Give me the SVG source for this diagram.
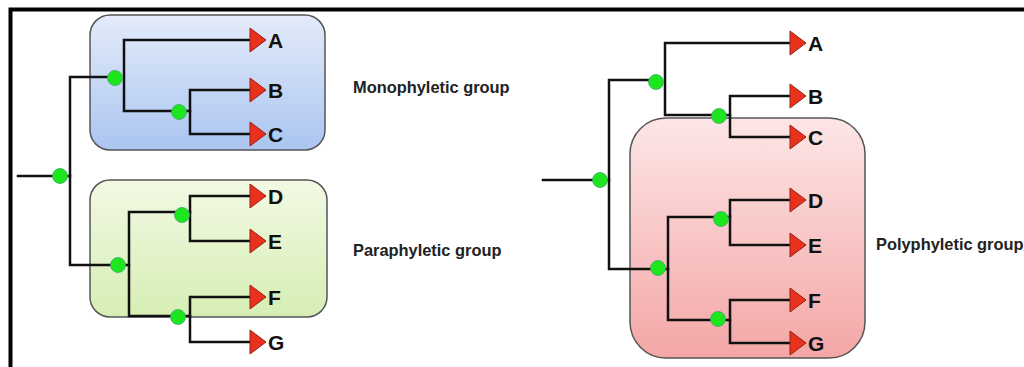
<svg xmlns="http://www.w3.org/2000/svg" width="1024" height="367" viewBox="0 0 1024 367">
<defs>
<linearGradient id="gBlue" x1="0" y1="0" x2="0" y2="1"><stop offset="0" stop-color="#e4ebfa"/><stop offset="1" stop-color="#aac5f0"/></linearGradient>
<linearGradient id="gGreen" x1="0" y1="0" x2="0" y2="1"><stop offset="0" stop-color="#f2f9e4"/><stop offset="1" stop-color="#d6eeb4"/></linearGradient>
<linearGradient id="gPink" x1="0" y1="0" x2="0" y2="1"><stop offset="0" stop-color="#fde6e6"/><stop offset="1" stop-color="#f4a6a6"/></linearGradient>
<path id="tri" d="M0,-12 L16,0 L0,12 Z"/>
<circle id="dot" r="7.5"/>
</defs>
<style>
.box{stroke:#555;stroke-width:1.5}
.br{fill:none;stroke:#111;stroke-width:2.5;stroke-linecap:square}
.tip use{fill:#e8321e;stroke:#9a1e12;stroke-width:1}
.node{fill:#1ee61e;stroke:#3aa86a;stroke-width:0.8}
.lbl{font-family:"Liberation Sans",Arial,sans-serif;font-weight:bold;font-size:21px;fill:#111}
.grp{font-family:"Liberation Sans",Arial,sans-serif;font-weight:bold;font-size:16.4px;fill:#222}
</style>
<rect width="1024" height="367" fill="#fff"/>
<path d="M10.5,367 V9.5 H1024" fill="none" stroke="#000" stroke-width="4"/>

<g id="box-mono"><rect class="box" x="90" y="15" width="235" height="135" rx="20" fill="url(#gBlue)"/></g>
<g id="box-para"><rect class="box" x="90" y="180" width="237" height="137" rx="20" fill="url(#gGreen)"/></g>
<g id="box-poly"><rect class="box" x="630" y="118" width="235" height="240" rx="36" fill="url(#gPink)"/></g>

<g id="connectors" class="br">
<path d="M18,176 H70"/>
<path d="M115,77 H70 V265 H129"/>
<path d="M250,40 H124 V111 H190"/>
<path d="M250,90 H190 V134 H250"/>
<path d="M190,212 H129 V316 H190"/>
<path d="M250,196 H190 V241 H250"/>
<path d="M250,297 H190 V342 H250"/>
<path d="M543,180 H609"/>
<path d="M656,80 H609 V269 H668"/>
<path d="M790,43 H665 V115 H730"/>
<path d="M790,96 H730 V137 H790"/>
<path d="M730,217 H668 V320 H730"/>
<path d="M790,200 H730 V245 H790"/>
<path d="M790,300 H730 V343 H790"/>
</g>

<g id="nodes" class="node">
<g id="n-root-l"><use href="#dot" x="60" y="176"/></g>
<g id="n-abc"><use href="#dot" x="115" y="78"/></g>
<g id="n-bc"><use href="#dot" x="179" y="112"/></g>
<g id="n-defg-l"><use href="#dot" x="118" y="265"/></g>
<g id="n-de-l"><use href="#dot" x="182" y="215"/></g>
<g id="n-fg-l"><use href="#dot" x="178" y="317"/></g>
<g id="n-root-r"><use href="#dot" x="600" y="180"/></g>
<g id="n-abc-r"><use href="#dot" x="656" y="82"/></g>
<g id="n-bc-r"><use href="#dot" x="719" y="116"/></g>
<g id="n-defg-r"><use href="#dot" x="658" y="268"/></g>
<g id="n-de-r"><use href="#dot" x="721" y="219"/></g>
<g id="n-fg-r"><use href="#dot" x="718" y="319"/></g>
</g>

<g id="tip-A-l" class="tip"><use href="#tri" x="250" y="40"/><text class="lbl" x="268" y="47.5">A</text></g>
<g id="tip-B-l" class="tip"><use href="#tri" x="250" y="90"/><text class="lbl" x="268" y="97.5">B</text></g>
<g id="tip-C-l" class="tip"><use href="#tri" x="250" y="134"/><text class="lbl" x="268" y="141.5">C</text></g>
<g id="tip-D-l" class="tip"><use href="#tri" x="250" y="196"/><text class="lbl" x="268" y="203.5">D</text></g>
<g id="tip-E-l" class="tip"><use href="#tri" x="250" y="241"/><text class="lbl" x="268" y="248.5">E</text></g>
<g id="tip-F-l" class="tip"><use href="#tri" x="250" y="297"/><text class="lbl" x="268" y="304.5">F</text></g>
<g id="tip-G-l" class="tip"><use href="#tri" x="250" y="342"/><text class="lbl" x="268" y="349.5">G</text></g>

<g id="tip-A-r" class="tip"><use href="#tri" x="790" y="43"/><text class="lbl" x="808" y="50.5">A</text></g>
<g id="tip-B-r" class="tip"><use href="#tri" x="790" y="96"/><text class="lbl" x="808" y="103.5">B</text></g>
<g id="tip-C-r" class="tip"><use href="#tri" x="790" y="137"/><text class="lbl" x="808" y="144.5">C</text></g>
<g id="tip-D-r" class="tip"><use href="#tri" x="790" y="200"/><text class="lbl" x="808" y="207.5">D</text></g>
<g id="tip-E-r" class="tip"><use href="#tri" x="790" y="245"/><text class="lbl" x="808" y="252.5">E</text></g>
<g id="tip-F-r" class="tip"><use href="#tri" x="790" y="300"/><text class="lbl" x="808" y="307.5">F</text></g>
<g id="tip-G-r" class="tip"><use href="#tri" x="790" y="343"/><text class="lbl" x="808" y="350.5">G</text></g>

<g id="label-mono"><text class="grp" x="353" y="93">Monophyletic group</text></g>
<g id="label-para"><text class="grp" x="353" y="256">Paraphyletic group</text></g>
<g id="label-poly"><text class="grp" x="876" y="250">Polyphyletic group</text></g>
</svg>
